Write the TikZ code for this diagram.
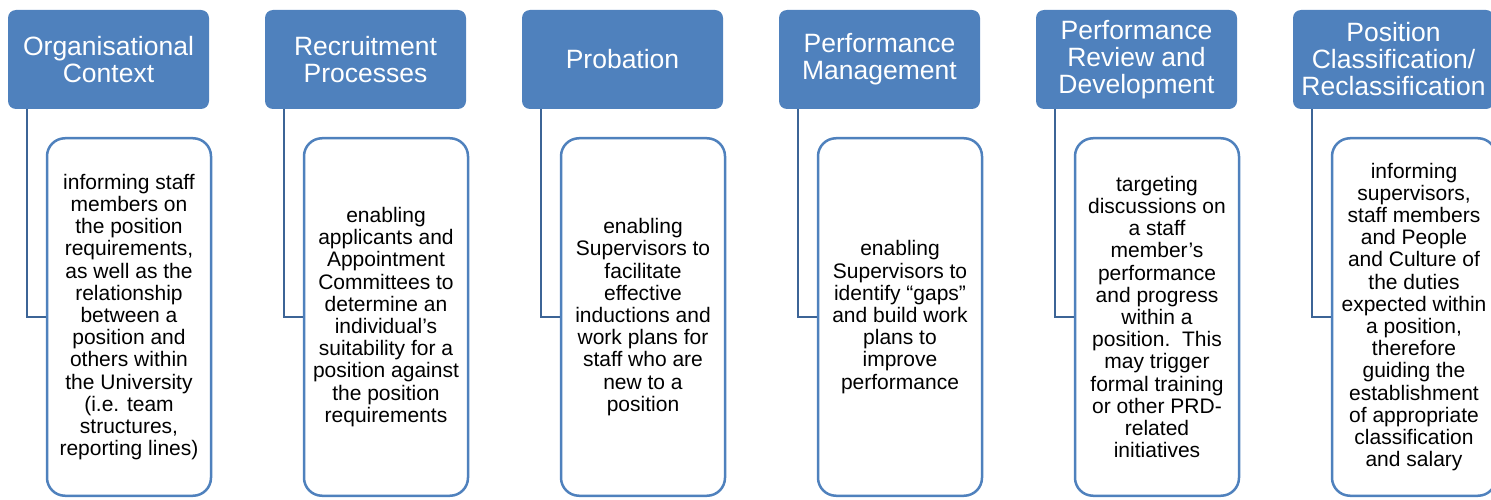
\documentclass[tikz,border=0pt]{standalone}
\usepackage{fontspec}
\setmainfont{Liberation Sans}
\usepackage{tikz}
\usetikzlibrary{positioning}
\definecolor{hdblue}{RGB}{79,129,189}
\definecolor{lnblue}{RGB}{60,100,150}

\begin{document}
\begin{tikzpicture}[x=1pt, y=-1pt,
      head/.style={rectangle, rounded corners=8pt, fill=hdblue, text=white, inner sep=0pt,
                   minimum width=201pt, minimum height=99pt, align=center,
                   font=\fontsize{26.5}{27}\selectfont},
      body/.style={rectangle, rounded corners=18pt, draw=hdblue, line width=2.5pt, fill=white,
                   inner sep=0pt, minimum width=164pt, minimum height=357.5pt, align=center,
                   font=\fontsize{21}{22.2}\selectfont},
      link/.style={draw=lnblue, line width=2.5pt}]
      \useasboundingbox (0, 0) rectangle (1491, 500);
      % headers
      \node (org) [head] at (108.5, 59.5) {Organisational\\Context};
      \node (rec) [head] at (365.5, 59.5) {Recruitment\\Processes};
      \node (prob) [head] at (622.5, 59.5) {Probation};
      \node (perf) [head] at (879.5, 59.5) {Performance\\Management};
      \node (prd) [head] at (1136.5, 59.5) {Performance\\Review and\\Development};
      \node (pc) [head] at (1393.5, 59.5) {Position\\Classification/\\Reclassification};
      % text boxes
      \node (orgtxt) [body] at (129, 317) {informing staff\\members on\\the position\\requirements,\\as well as the\\relationship\\between a\\position and\\others within\\the University\\(i.e. team\\structures,\\reporting lines)};
      \node (rectxt) [body] at (386, 317) {enabling\\applicants and\\Appointment\\Committees to\\determine an\\individual’s\\suitability for a\\position against\\the position\\requirements};
      \node (probtxt) [body] at (643, 317) {enabling\\Supervisors to\\facilitate\\effective\\inductions and\\work plans for\\staff who are\\new to a\\position};
      \node (perftxt) [body] at (900, 317) {enabling\\Supervisors to\\identify “gaps”\\and build work\\plans to\\improve\\performance};
      \node (prdtxt) [body] at (1157, 317) {targeting\\discussions on\\a staff\\member’s\\performance\\and progress\\within a\\position.\ \ This\\may trigger\\formal training\\or other PRD-\\related\\initiatives};
      \node (pctxt) [body] at (1414, 317) {informing\\supervisors,\\staff members\\and People\\and Culture of\\the duties\\expected within\\a position,\\therefore\\guiding the\\establishment\\of appropriate\\classification\\and salary};
      % links
      \draw[link] ([xshift=19pt]org.south west) |- (orgtxt.west)
                  ([xshift=19pt]rec.south west) |- (rectxt.west)
                  ([xshift=19pt]prob.south west) |- (probtxt.west)
                  ([xshift=19pt]perf.south west) |- (perftxt.west)
                  ([xshift=19pt]prd.south west) |- (prdtxt.west)
                  ([xshift=19pt]pc.south west) |- (pctxt.west);
      \end{tikzpicture}
\end{document}
